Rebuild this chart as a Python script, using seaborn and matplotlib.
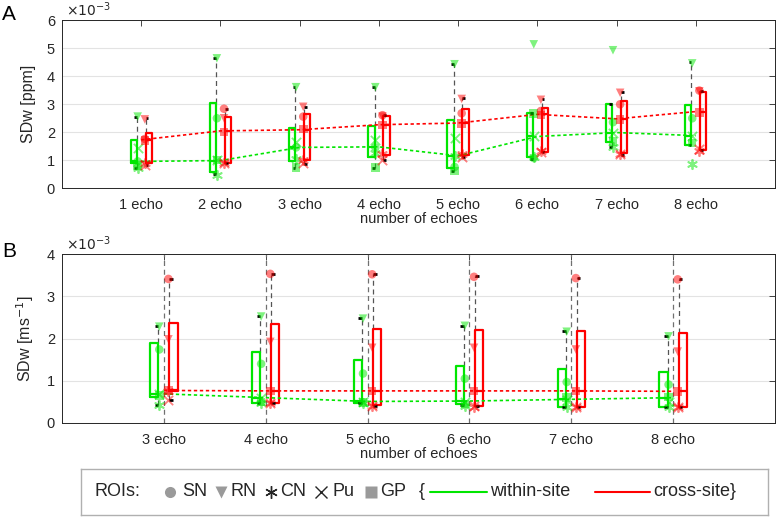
import numpy as np
import matplotlib
matplotlib.use("Agg")
import matplotlib.pyplot as plt
import seaborn as sns

# ---- data (values in units of 1e-3) ----
echo_labels_a = ["1 echo", "2 echo", "3 echo", "4 echo", "5 echo", "6 echo", "7 echo", "8 echo"]
echo_pos_a = [1, 2, 3, 4, 5, 6, 7, 8]

# panel A, within-site box stats
within_a_lo = [0.73, 0.51, 0.73, 0.73, 0.62, 1.04, 1.48, 1.52]
within_a_q1 = [0.88, 0.56, 0.95, 1.09, 0.73, 1.09, 1.66, 1.52]
within_a_med = [0.95, 0.98, 1.45, 1.47, 1.15, 1.84, 1.98, 1.87]
within_a_q3 = [1.70, 3.03, 2.14, 2.20, 2.43, 2.67, 2.99, 2.97]
within_a_hi = [2.55, 4.63, 3.60, 3.60, 4.42, 2.67, 2.99, 4.49]
# panel A, cross-site box stats
cross_a_lo = [0.81, 0.89, 0.87, 1.00, 1.09, 1.28, 1.19, 1.36]
cross_a_q1 = [0.89, 0.89, 1.01, 1.19, 1.19, 1.28, 1.25, 1.36]
cross_a_med = [1.72, 2.04, 2.08, 2.26, 2.32, 2.63, 2.47, 2.73]
cross_a_q3 = [1.96, 2.55, 2.64, 2.58, 2.81, 2.85, 3.09, 3.44]
cross_a_hi = [2.49, 2.83, 2.91, 2.62, 3.21, 3.17, 3.42, 3.48]

# panel A, ROI values
within_a_sn = [0.95, 2.49, 1.45, 1.45, 0.75, 1.07, 2.35, 2.49]
within_a_rn = [2.55, 4.63, 3.60, 3.60, 4.42, 5.13, 4.92, 4.45]
within_a_cn = [0.72, 0.45, 1.05, 1.25, 1.15, 1.10, 1.48, 0.87]
within_a_pu = [1.42, 1.00, 1.63, 1.72, 1.78, 1.84, 1.98, 1.87]
within_a_gp = [0.80, 1.00, 0.73, 0.73, 0.60, 2.67, 1.66, 1.60]
cross_a_sn = [1.75, 2.83, 2.55, 2.60, 2.67, 2.75, 2.99, 3.48]
cross_a_rn = [2.45, 2.49, 2.90, 2.55, 3.18, 3.15, 3.40, 3.45]
cross_a_cn = [0.90, 0.90, 1.00, 1.20, 1.20, 1.33, 1.20, 1.33]
cross_a_pu = [0.82, 0.90, 0.88, 1.00, 1.10, 1.30, 1.20, 1.40]
cross_a_gp = [1.70, 2.00, 2.10, 2.25, 2.30, 2.60, 2.45, 2.70]

echo_labels_b = ["3 echo", "4 echo", "5 echo", "6 echo", "7 echo", "8 echo"]
echo_pos_b = [3, 4, 5, 6, 7, 8]

within_b_lo = [0.42, 0.48, 0.47, 0.42, 0.38, 0.37]
within_b_q1 = [0.62, 0.48, 0.48, 0.44, 0.38, 0.37]
within_b_med = [0.69, 0.60, 0.51, 0.52, 0.56, 0.60]
within_b_q3 = [1.89, 1.69, 1.50, 1.36, 1.28, 1.20]
within_b_hi = [2.30, 2.54, 2.48, 2.30, 2.18, 2.07]
cross_b_lo = [0.55, 0.47, 0.40, 0.40, 0.38, 0.37]
cross_b_q1 = [0.76, 0.47, 0.42, 0.40, 0.38, 0.37]
cross_b_med = [0.77, 0.76, 0.76, 0.76, 0.76, 0.75]
cross_b_q3 = [2.36, 2.34, 2.23, 2.20, 2.17, 2.12]
cross_b_hi = [3.41, 3.53, 3.52, 3.47, 3.43, 3.40]

within_b_sn = [1.74, 1.40, 1.17, 1.05, 0.97, 0.91]
within_b_rn = [2.28, 2.52, 2.47, 2.30, 2.16, 2.05]
within_b_cn = [0.42, 0.48, 0.47, 0.40, 0.38, 0.37]
within_b_pu = [0.68, 0.60, 0.50, 0.50, 0.55, 0.50]
within_b_gp = [0.65, 0.50, 0.48, 0.45, 0.60, 0.62]
cross_b_sn = [3.41, 3.53, 3.52, 3.46, 3.43, 3.40]
cross_b_rn = [1.98, 1.92, 1.78, 1.78, 1.74, 1.69]
cross_b_cn = [0.76, 0.47, 0.40, 0.38, 0.37, 0.37]
cross_b_pu = [0.55, 0.48, 0.40, 0.40, 0.38, 0.37]
cross_b_gp = [0.77, 0.76, 0.76, 0.76, 0.76, 0.75]

roi_names = ["SN", "RN", "CN", "Pu", "GP"]
roi_markers = ["o", "v", (6, 2, 0), "x", "s"]

GREEN = "#00e600"
RED = "#ff0000"
AXC = "#262626"

sns.set_theme(style="white")
plt.rcParams["font.family"] = ["Liberation Sans", "DejaVu Sans"]


def draw_group(ax, pos, lo, q1, med, q3, hi, rois, color, side):
    """Boxes, offset whiskers, caps and ROI markers for one site type."""
    pos = np.asarray(pos, dtype=float)
    centers = pos + side * 0.095
    inner = pos + side * 0.055
    stats = [dict(med=m, q1=a, q3=b, whislo=a, whishi=b, fliers=[])
             for a, m, b in zip(q1, med, q3)]
    ax.bxp(stats, positions=centers, widths=0.08, showcaps=False,
           boxprops=dict(color=color, linewidth=1.6),
           medianprops=dict(color=color, linewidth=1.6),
           whiskerprops=dict(linewidth=0), manage_ticks=False)
    dash = (0, (4, 3))
    ax.vlines(inner, q3, hi, colors="#555555", linestyles=dash, lw=0.9, zorder=1)
    ax.vlines(inner, lo, q1, colors="#555555", linestyles=dash, lw=0.9, zorder=1)
    ax.hlines(hi, inner, inner + side * 0.035, colors="black", lw=2, zorder=4)
    ax.hlines(lo, inner, inner + side * 0.035, colors="black", lw=2, zorder=4)

    pt_x = pos + side * 0.045
    for vals, mk in zip(rois, roi_markers):
        filled = mk in ("o", "v", "s")
        kw = dict(s=38, alpha=0.5, zorder=5, ax=ax, color=color, marker=mk)
        if filled:
            kw["edgecolor"] = "none"
        else:
            kw["linewidth"] = 1.3
            kw["s"] = 45
        sns.scatterplot(x=pt_x, y=vals, legend=False, **kw)

    sns.lineplot(x=pos, y=med, ax=ax, color=color, lw=1.2,
                 linestyle=(0, (2, 1.6)), zorder=3, legend=False)


def style_axes(ax, pos, labels, xlim, ylim, ylabel):
    ax.set_xlim(*xlim)
    ax.set_ylim(*ylim)
    ax.set_xticks(pos, labels)
    ax.set_yticks(range(int(ylim[1]) + 1))
    ax.yaxis.grid(True, color="#e3e3e3", lw=0.8)
    ax.set_axisbelow(True)
    for sp in ax.spines.values():
        sp.set_color(AXC)
        sp.set_linewidth(0.7)
    ax.tick_params(axis="both", which="both", direction="in", length=4, width=0.6,
                   color=AXC, top=True, right=True, labelsize=10.5, labelcolor=AXC)
    ax.tick_params(axis="x", pad=7)
    ax.tick_params(axis="y", pad=5)
    ax.set_xlabel("number of echoes", fontsize=10.5, color=AXC, labelpad=0)
    ax.set_ylabel(ylabel, fontsize=11.5, color=AXC, labelpad=8)
    ax.text(0.005, 1.005, r"$\times10^{-3}$", transform=ax.transAxes,
            fontsize=10, color=AXC, va="bottom", ha="left")


fig = plt.figure(figsize=(7.77, 5.17), dpi=100)
W, H = 777, 517
ax_a = fig.add_axes([62 / W, (H - 188) / H, 713 / W, 168 / H])
ax_b = fig.add_axes([62 / W, (H - 423) / H, 713 / W, 169 / H])

draw_group(ax_a, echo_pos_a, within_a_lo, within_a_q1, within_a_med, within_a_q3, within_a_hi,
           [within_a_sn, within_a_rn, within_a_cn, within_a_pu, within_a_gp], GREEN, -1)
draw_group(ax_a, echo_pos_a, cross_a_lo, cross_a_q1, cross_a_med, cross_a_q3, cross_a_hi,
           [cross_a_sn, cross_a_rn, cross_a_cn, cross_a_pu, cross_a_gp], RED, 1)
style_axes(ax_a, echo_pos_a, echo_labels_a, (0, 9), (0, 6), "SDw [ppm]")

ax_b.vlines(echo_pos_b, 0, 4, colors="#707070", linestyles=(0, (4, 3)), lw=0.9, zorder=1)
draw_group(ax_b, echo_pos_b, within_b_lo, within_b_q1, within_b_med, within_b_q3, within_b_hi,
           [within_b_sn, within_b_rn, within_b_cn, within_b_pu, within_b_gp], GREEN, -1)
draw_group(ax_b, echo_pos_b, cross_b_lo, cross_b_q1, cross_b_med, cross_b_q3, cross_b_hi,
           [cross_b_sn, cross_b_rn, cross_b_cn, cross_b_pu, cross_b_gp], RED, 1)
style_axes(ax_b, echo_pos_b, echo_labels_b, (2, 9), (0, 4), "SDw [ms$^{-1}$]")

fig.text(2 / W, 1 - 20 / H, "A", fontsize=15, color="black", ha="left", va="baseline")
fig.text(2 / W, 1 - 257 / H, "B", fontsize=15, color="black", ha="left", va="baseline")

# ---- legend box (pixel coordinates inside its own axes) ----
lg = fig.add_axes([81 / W, (H - 515) / H, 687 / W, 46 / H])
lg.set_xlim(81, 768)
lg.set_ylim(0, 46)
lg.set_xticks([])
lg.set_yticks([])
for sp in lg.spines.values():
    sp.set_color("#b0b0b0")
    sp.set_linewidth(1.0)
yc = 23
fs = 13
lg.text(95, yc, "ROIs:", fontsize=fs, va="center", ha="left", color=AXC)
gray = "#9a9a9a"
legend_items = [(170, "o", "SN", 182), (221, "v", "RN", 230), (271, (6, 2, 0), "CN", 280),
                (321, "x", "Pu", 332), (371, "s", "GP", 380)]
for mx, mk, name, tx in legend_items:
    if mk in ("o", "v", "s"):
        lg.plot(mx, yc, marker=mk, color=gray, ms=9 if mk == "v" else 8, mec="none")
    else:
        lg.plot(mx, yc, marker=mk, color=AXC, ms=9, mew=1.0)
    lg.text(tx, yc, name, fontsize=fs, va="center", ha="left", color=AXC)
lg.text(419, yc, "{", fontsize=fs, va="center", ha="left", color=AXC)
lg.plot([430, 487], [yc, yc], color=GREEN, lw=1.5)
lg.text(490, yc, "within-site", fontsize=fs, va="center", ha="left", color=AXC)
lg.plot([595, 650], [yc, yc], color=RED, lw=1.5)
lg.text(653, yc, "cross-site}", fontsize=fs, va="center", ha="left", color=AXC)

fig.savefig("out.png", dpi=100)
